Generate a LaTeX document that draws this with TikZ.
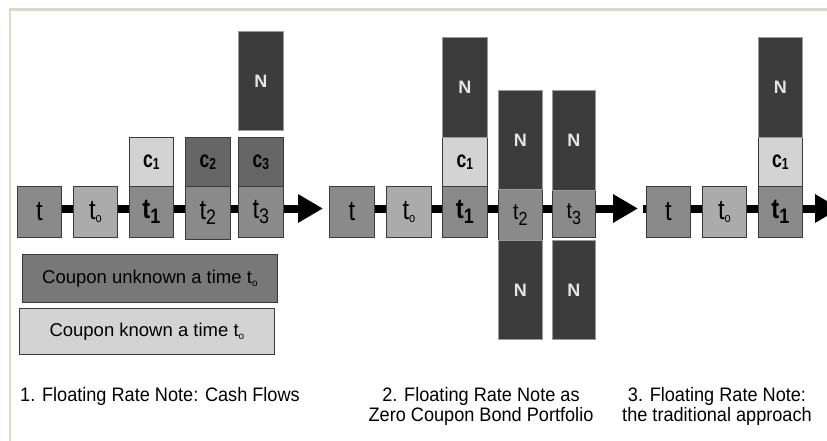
\documentclass[tikz,border=0pt]{standalone}
\usepackage{fontspec}
\setmainfont{Liberation Sans}
\newfontfamily\capfont{Liberation Sans}[FakeStretch=0.93]
\newfontfamily\narrowfont{Liberation Sans}[FakeStretch=0.75]
\newfontfamily\tfont{Liberation Sans}[FakeStretch=0.85]
\usetikzlibrary{arrows.meta,backgrounds}
\definecolor{mid}{HTML}{8A8A8A}
\definecolor{lite}{HTML}{ABABAB}
\definecolor{pale}{HTML}{D3D3D3}
\definecolor{darkc}{HTML}{666666}
\definecolor{nbox}{HTML}{3C3C3C}
\definecolor{legdark}{HTML}{787878}
\definecolor{boxline}{HTML}{3A3A3A}
\definecolor{nline}{HTML}{9A9A9A}
\definecolor{frame}{HTML}{DCD9C6}
\definecolor{ntext}{HTML}{E6E6E6}
\newcommand\tplain{{\tfont\fontsize{28}{28}\selectfont t}}
\newcommand\tlab[1]{{\tfont\fontsize{28}{28}\selectfont t\raisebox{-5pt}{\fontsize{21}{21}\selectfont #1}}}
\newcommand\tolab{{\tfont\fontsize{28}{28}\selectfont t\raisebox{-3pt}{\fontsize{13}{13}\selectfont o}}}
\newcommand\tsmall[1]{{\tfont\fontsize{23}{23}\selectfont t\raisebox{-6pt}{\fontsize{19}{19}\selectfont #1}}}
\newcommand\clab[1]{\raisebox{-5pt}{\narrowfont\bfseries\fontsize{23.5}{23.5}\selectfont c\raisebox{-2pt}{\fontsize{16}{16}\selectfont #1}}}
\newcommand\legto{t\raisebox{-3pt}{\fontsize{10}{10}\selectfont o}}
\begin{document}
\begin{tikzpicture}[x=1pt,y=-1pt,
  box/.style={draw=boxline, line width=0.8pt, inner sep=0pt, anchor=north west, text=black},
  tbox/.style={box, fill=mid, minimum width=44pt, minimum height=51pt},
  tobox/.style={box, fill=lite, minimum width=44pt, minimum height=51pt},
  cbox/.style={box, minimum width=44pt, minimum height=49pt},
  nbx/.style={box, draw=nline, fill=nbox, text=ntext, minimum width=44pt, minimum height=100pt, font=\bfseries\fontsize{18}{18}\selectfont},
  legbox/.style={box, minimum width=255pt, minimum height=47pt, font=\fontsize{18.5}{18.5}\selectfont},
  caption/.style={inner sep=0pt, text=black, align=center, font=\capfont\fontsize{19.5}{20.5}\selectfont},
  arrowline/.style={line width=8pt, draw=black, -{Triangle[length=25pt,width=27pt]}},
  frameline/.style={draw=frame, line width=2.5pt}
]
\useasboundingbox (0,0) rectangle (827,441);
\clip (0,0) rectangle (827,441);

% Panel 1
\node[tbox] (p1t) at (17,186) {\tplain};
\node[tobox] (p1to) at (73,186) {\tolab};
\node[tbox] (p1t1) at (129,186) {\bfseries\tlab{1}};
\node[cbox, fill=pale] (p1c1) at (129,137) {\clab{1}};
\node[tbox, minimum width=45pt, minimum height=53pt] (p1t2) at (185,186) {\tlab{2}};
\node[cbox, fill=darkc, minimum width=45pt] (p1c2) at (185,137) {\clab{2}};
\node[tbox, minimum width=45pt] (p1t3) at (238,186) {\tlab{3}};
\node[cbox, fill=darkc, minimum width=45pt] (p1c3) at (238,137) {\clab{3}};
\node[nbx, minimum width=45pt, minimum height=99pt] (p1N) at (238,31) {N};
\coordinate (p1tip) at (323,208.5);

% Panel 2
\node[tbox, minimum width=45pt] (p2t) at (329,186) {\tplain};
\node[tobox, minimum width=45pt] (p2to) at (386,186) {\tolab};
\node[tbox, minimum width=45pt] (p2t1) at (442,186) {\bfseries\tlab{1}};
\node[cbox, fill=pale, minimum width=45pt] (p2c1) at (442,137) {\clab{1}};
\node[nbx, minimum width=45pt] (p2N1) at (442,37) {N};
\node[tbox, minimum height=51pt] (p2t2) at (498,189) {\tsmall{2}};
\node[nbx, minimum height=99pt] (p2Na2) at (498,90) {N};
\node[nbx, minimum height=99pt] (p2Nb2) at (498,240) {N};
\node[tbox, minimum width=43pt, minimum height=47pt] (p2t3) at (552,190) {\tsmall{3}};
\node[nbx, minimum width=43pt] (p2Na3) at (552,90) {N};
\node[nbx, minimum width=43pt, minimum height=99pt] (p2Nb3) at (552,240) {N};
\coordinate (p2tip) at (638,208.5);

% Panel 3
\coordinate (p3start) at (643,208.5);
\node[tbox] (p3t) at (646,186) {\tplain};
\node[tobox] (p3to) at (702,186) {\tolab};
\node[tbox] (p3t1) at (758,186) {\bfseries\tlab{1}};
\node[cbox, fill=pale] (p3c1) at (758,137) {\clab{1}};
\node[nbx] (p3N) at (758,37) {N};
\coordinate (p3tip) at (840,208.5);

% Legend
\node[legbox, fill=legdark, minimum height=48pt] (leg1) at (22,254) {Coupon unknown a time \legto};
\node[legbox, fill=pale, minimum height=46pt] (leg2) at (19,308) {Coupon known a time \legto};

% Captions
\node[caption, anchor=north] (cap1) at (160,387) {1. Floating Rate Note: Cash Flows};
\node[caption, anchor=north] (cap2) at (481,387) {2. Floating Rate Note as\\Zero Coupon Bond Portfolio};
\node[caption, anchor=north] (cap3) at (717,387) {3. Floating Rate Note:\\the traditional approach};

\begin{scope}[on background layer]
  \fill[white] (0,0) rectangle (827,441);
  \draw[frameline] (10,441) -- (10,9.5) -- (827,9.5);
  \draw[arrowline] (p1t.center |- p1tip) -- (p1tip);
  \draw[arrowline] (p2t.center |- p2tip) -- (p2tip);
  \draw[arrowline] (p3start) -- (p3tip);
\end{scope}
\end{tikzpicture}
\end{document}
